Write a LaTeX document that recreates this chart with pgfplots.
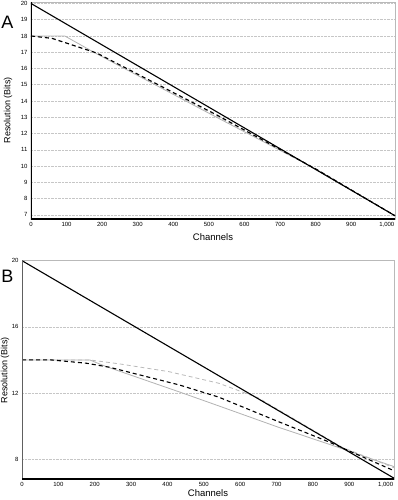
\documentclass[border=0pt]{standalone}
\usepackage{pgfplots}
\pgfplotsset{compat=1.18}
\usepackage{fontspec}
\setmainfont{Liberation Sans}

\begin{document}
\begin{tikzpicture}
\useasboundingbox (0pt,0pt) rectangle (398pt,-500pt);
\pgfplotsset{
  common/.style={
    scale only axis,
    xmin=0, xmax=1023,
    xtick={0,100,...,1000},
    xticklabels={0,100,200,300,400,500,600,700,800,900,{1,000}},
    major tick length=0pt,
    ymajorgrids,
    major grid style={densely dotted, gray!45, line width=0.6pt},
    axis line style={gray!55, line width=0.8pt},
    tick label style={font=\fontsize{6}{7}\selectfont},
    /pgf/number format/assume math mode=true,
    clip=true,
  },
  gsolid/.style={gray!60, line width=0.8pt},
  gdash/.style={gray!55, line width=0.8pt, dash pattern=on 4pt off 3pt},
  bdash/.style={black, line width=1.1pt, dash pattern=on 4pt off 3pt},
  bsolid/.style={black, line width=1.1pt},
}
% Panel A
\begin{axis}[common, at={(31pt,-2pt)}, anchor=north west,
  width=364pt, height=217pt,
  ymin=6.75, ymax=20.09, ytick={7,8,...,20}]
\addplot[gsolid] coordinates {(0,18) (95,18) (185,16.9) (520,13.02) (800,9.83) (1023,6.95)};
\addplot[gdash] coordinates {(0,18) (50,17.9) (110,17.48) (185,16.92) (520,13.1) (800,9.83) (1023,6.95)};
\addplot[bdash] coordinates {(0,18) (60,17.85) (120,17.42) (185,16.95) (520,13.17) (800,9.83) (1023,6.95)};
\addplot[bsolid] coordinates {(0,20) (1023,6.95)};
\draw[black, line width=1.3pt] (rel axis cs:0,1) -- (rel axis cs:0,0) -- (rel axis cs:1,0);
\end{axis}
\node at (7.5pt,-22.5pt) {\fontsize{18}{20}\selectfont A};
\node[rotate=90] at (8pt,-110pt) {\fontsize{9}{11}\selectfont Resolution (Bits)};
\node at (213pt,-237pt) {\fontsize{9.5}{11}\selectfont Channels};
% Panel B
\begin{axis}[common, at={(22pt,-260pt)}, anchor=north west,
  width=372pt, height=219pt,
  ymin=6.8, ymax=20.04, ytick={8,12,16,20}]
\addplot[gsolid] coordinates {(0,14) (186,14) (231,13.6) (432,12.07) (541,11.22) (705,9.93) (842,8.92) (1023,7.55)};
\addplot[gdash] coordinates {(0,14) (186,14) (268,13.76) (404,13.29) (541,12.59) (650,11.7) (700,11.05) (880,8.72) (1023,7.48)};
\addplot[bdash] coordinates {(0,14) (80,14) (177,13.8) (240,13.56) (432,12.49) (541,11.75) (705,10.27) (842,9.06) (1023,7.3)};
\addplot[bsolid] coordinates {(0,20) (1023,6.85)};
\draw[gray!75!black, line width=1.3pt] (rel axis cs:0,1) -- (rel axis cs:0,0);
\draw[black, line width=1.3pt] (rel axis cs:0,0) -- (rel axis cs:1,0);
\end{axis}
\node at (7.5pt,-276.5pt) {\fontsize{18}{20}\selectfont B};
\node[rotate=90] at (5pt,-370pt) {\fontsize{9}{11}\selectfont Resolution (Bits)};
\node at (208pt,-493pt) {\fontsize{9.5}{11}\selectfont Channels};
\end{tikzpicture}
\end{document}
